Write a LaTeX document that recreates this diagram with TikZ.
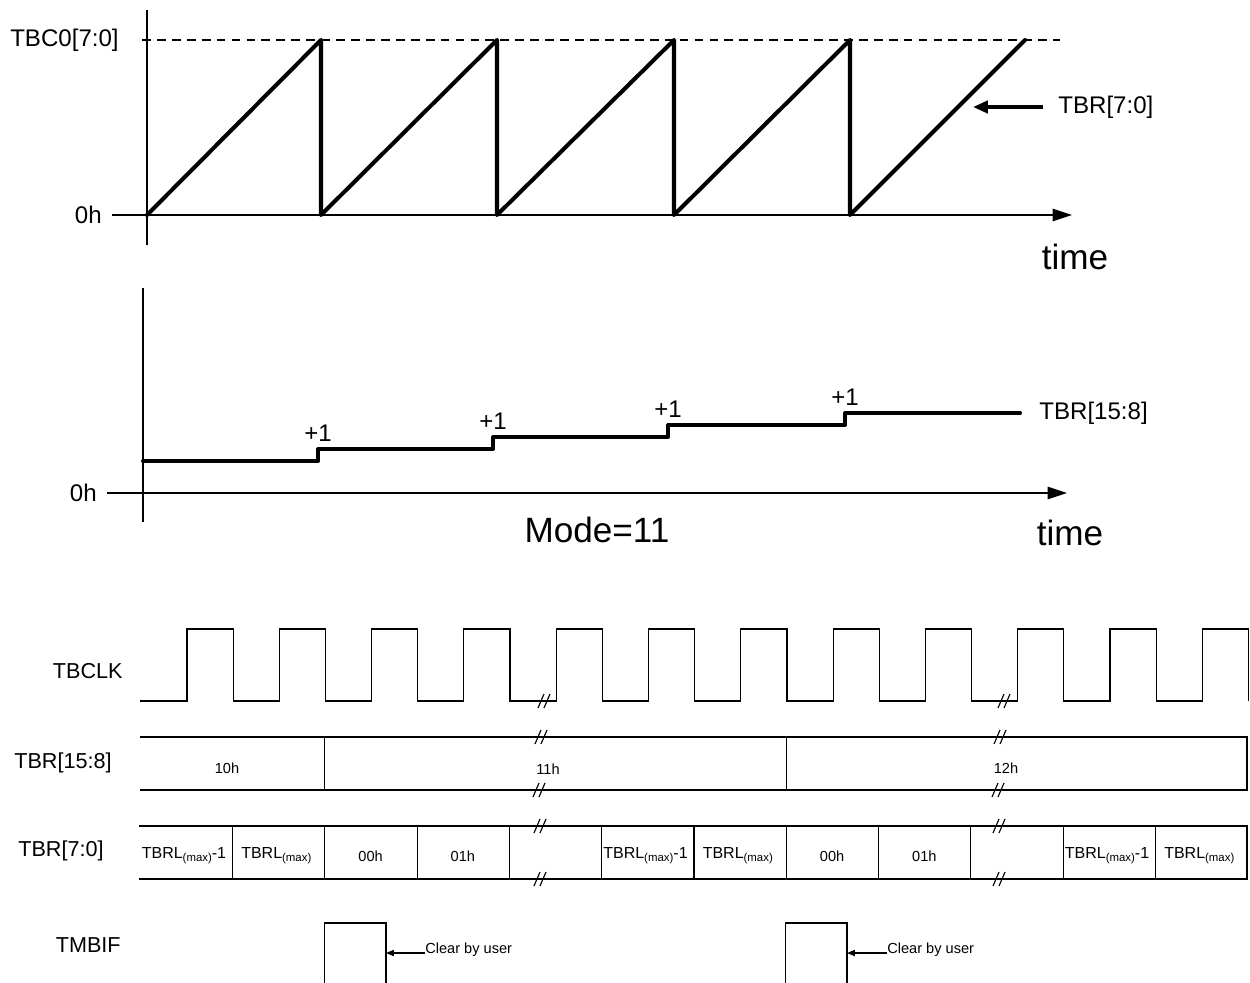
\documentclass[tikz,border=0pt]{standalone}
\usepackage{fontspec}
\setmainfont{Liberation Sans}
\usepackage{tikz}
\usetikzlibrary{arrows.meta}
\tikzset{axis/.style={line width=0.85pt},
  axis arrow/.style={axis,-{Triangle[length=11pt,width=7pt]}},
  ramp/.style={line width=2.3pt,line join=round,line cap=round},
  wave/.style={line width=0.65pt},
  pointer/.style={line width=2pt,-{Triangle[length=8.5pt,width=7pt]}},
  flag pointer/.style={wave,-{Triangle[length=4.5pt,width=3.5pt]}},
  tick label/.style={font=\fontsize{13.7}{16}\selectfont,inner sep=0pt},
  big label/.style={font=\fontsize{20}{24}\selectfont,inner sep=0pt},
  row label/.style={font=\fontsize{12.3}{15}\selectfont,inner sep=0pt},
  cell label/.style={font=\fontsize{8.3}{10}\selectfont,inner sep=0pt},
  reg label/.style={font=\fontsize{9.1}{11}\selectfont,inner sep=0pt},
  note label/.style={font=\fontsize{8.3}{10}\selectfont,inner sep=0pt},
  brk/.pic={\draw[wave] (-7,7) -- (-1,-7) (-1,7) -- (5,-7);}}
\newcommand{\tbrlmax}{TBRL\raisebox{-2pt}{\fontsize{6.5}{7}\selectfont(max)}}

\begin{document}
\begin{tikzpicture}[x=0.02cm,y=-0.02cm]
			\useasboundingbox (0,0) rectangle (1250,983);
			\def\ytop{40}
			\def\ybot{215}
			\def\per{92.3}

			% TBR[7:0] ramp
			\coordinate (Y1s) at (147,245);
			\coordinate (Y1e) at (147,10);
			\coordinate (X1s) at (112,\ybot);
			\coordinate (X1e) at (1072,\ybot);
			\coordinate (T1s) at (142,\ytop);
			\coordinate (T1e) at (1060,\ytop);
			\draw[axis] (Y1s) -- (Y1e);
			\draw[axis arrow] (X1s) -- (X1e);
			\draw[axis,dash pattern=on 5pt off 3.5pt] (T1s) -- (T1e);
			\node[tick label,anchor=east] (tbc) at (119,\ytop) {TBC0[7:0]};
			\node[tick label,anchor=east] (zeroA) at (102,\ybot) {0h};
			\node[big label] (timeA) at (1075,257) {time};

			\coordinate (S0) at (147,\ybot);
			\foreach \i/\x in {1/321,2/497,3/674,4/850}{
				\coordinate (P\i) at (\x,\ytop);
				\coordinate (V\i) at (\x,\ybot);
			}
			\coordinate (P5) at (1025,\ytop);
			\draw[ramp] (S0) -- (P1) -- (V1) -- (P2) -- (V2) -- (P3) -- (V3) -- (P4) -- (V4) -- (P5);

			\node[tick label,anchor=west] (lo) at (1058,107) {TBR[7:0]};
			\coordinate (loTail) at (1043,107);
			\coordinate (loTip) at (973,107);
			\draw[pointer] (loTail) -- (loTip);

			% TBR[15:8] steps
			\coordinate (Y2s) at (143,522);
			\coordinate (Y2e) at (143,288);
			\coordinate (X2s) at (107,493);
			\coordinate (X2e) at (1067,493);
			\draw[axis] (Y2s) -- (Y2e);
			\draw[axis arrow] (X2s) -- (X2e);
			\node[tick label,anchor=east] (zeroB) at (97,493) {0h};

			\coordinate (L0) at (143,461);
			\foreach \i/\x/\a/\b in {1/318/461/449,2/493/449/437,3/668/437/425,4/845/425/413}{
				\coordinate (Sa\i) at (\x,\a);
				\coordinate (Sb\i) at (\x,\b);
				\node[tick label,anchor=base] (inc\i) at (\x,{\b-8}) {+1};
			}
			\coordinate (Lend) at (1020,413);
			\draw[ramp] (L0) -- (Sa1) -- (Sb1) -- (Sa2) -- (Sb2) -- (Sa3) -- (Sb3) -- (Sa4) -- (Sb4) -- (Lend);
			\node[tick label,anchor=west] (hi) at (1039,413) {TBR[15:8]};
			\node[big label] (timeB) at (1070,533) {time};
			\node[big label] (mode) at (597,530) {Mode=11};

			% timing
			\node[row label,anchor=east] (clk) at (123,671) {TBCLK};
			\node[row label,anchor=east] (hreg) at (112,763) {TBR[15:8]};
			\node[row label,anchor=east] (lreg) at (104,851) {TBR[7:0]};
			\node[row label,anchor=east] (flag) at (121,945) {TMBIF};

			\coordinate (ck0) at (140,701);
			\draw[wave] (ck0) foreach \k in {0,...,11}{ -- ({187+\k*\per},701) -- ++(0,-72) -- ++({\per/2},0) -- ++(0,72) };
			\pic at (545,701) {brk};
			\pic at (1005,701) {brk};

			\coordinate (hA) at (140,737);
			\coordinate (hB) at (1247,737);
			\coordinate (hC) at (140,790);
			\coordinate (hD) at (1247,790);
			\draw[wave] (hA) -- (hB) -- (hD) -- (hC);
			\foreach \k in {1,6}
				\draw[wave] ({232.5+\k*\per},737) -- ++(0,53);
			\node[cell label,anchor=base] (h10) at (227,773) {10h};
			\node[cell label,anchor=base] (h11) at (548,774) {11h};
			\node[cell label,anchor=base] (h12) at (1006,773) {12h};
			\pic at (542,737) {brk};
			\pic at (540,790) {brk};
			\pic at (1001,737) {brk};
			\pic at (999,790) {brk};

			\coordinate (lA) at (139,826);
			\coordinate (lB) at (1247,826);
			\coordinate (lC) at (139,879);
			\coordinate (lD) at (1247,879);
			\draw[wave] (lA) -- (lB) -- (lD) -- (lC);
			\foreach \k in {0,...,10}
				\draw[wave] ({232.5+\k*\per},826) -- ++(0,53);
			\foreach \k/\t in {0/\tbrlmax-1,1/\tbrlmax,5/\tbrlmax-1,6/\tbrlmax,10/\tbrlmax-1,11/\tbrlmax}
				\node[reg label,anchor=base] (c\k) at ({184+\k*\per},858) {\t};
			\foreach \k/\t in {2/00h,3/01h,7/00h,8/01h}
				\node[cell label,anchor=base] (c\k) at ({186+\k*\per},861) {\t};
			\pic at (541,826) {brk};
			\pic at (541,879) {brk};
			\pic at (1000,826) {brk};
			\pic at (1000,879) {brk};

			% TMBIF pulses
			\coordinate (f1a) at (324.3,983);
			\coordinate (f1b) at (324.3,923);
			\coordinate (f1c) at (386,923);
			\coordinate (f1d) at (386,983);
			\draw[wave] (f1a) -- (f1b) -- (f1c) -- (f1d);
			\node[note label,anchor=base west] (clr1) at (425,953) {Clear by user};
			\draw[flag pointer] (clr1.base west) -- (clr1.base west -| f1c);

			\coordinate (f2a) at (785.8,983);
			\coordinate (f2b) at (785.8,923);
			\coordinate (f2c) at (847,923);
			\coordinate (f2d) at (847,983);
			\draw[wave] (f2a) -- (f2b) -- (f2c) -- (f2d);
			\node[note label,anchor=base west] (clr2) at (887,953) {Clear by user};
			\draw[flag pointer] (clr2.base west) -- (clr2.base west -| f2c);
		\end{tikzpicture}
\end{document}
